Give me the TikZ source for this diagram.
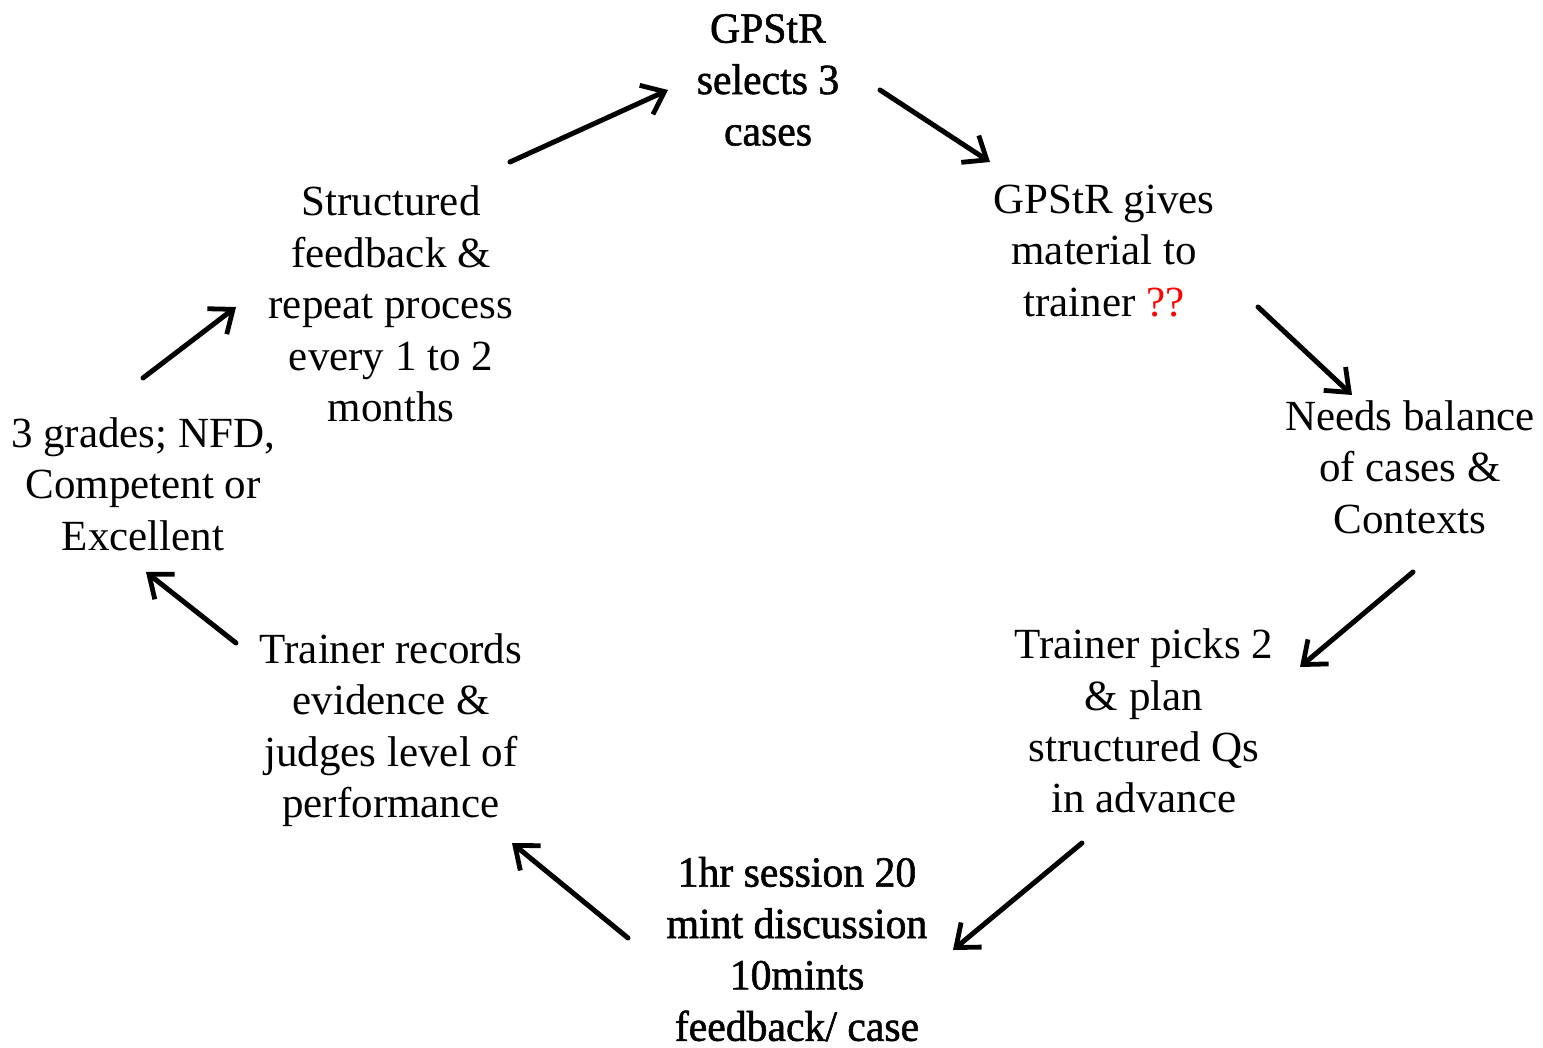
\documentclass[tikz,border=0pt]{standalone}
\usepackage{fontspec}
\setmainfont{Liberation Serif}
\newfontfamily\condfont[FakeStretch=0.97,FakeBold=1.3]{Liberation Serif}
\usetikzlibrary{arrows.meta}
\begin{document}
\begin{tikzpicture}[x=0.5pt,y=-0.5pt,
  lbl/.style={align=center,inner sep=0pt,font=\fontsize{21.5}{25.7}\selectfont},
  cond/.style={lbl,font=\fontsize{21.5}{25.7}\condfont},
  arr/.style={-{Straight Barb[length=10pt,width=16pt,line width=2.4pt]},line width=2.5pt,line cap=round}]
\useasboundingbox (0,0) rectangle (1543,1048);
\node[cond] (top) at (768,80) {GPStR\\selects 3\\cases};
\node[lbl] (rt) at (1104,251) {GPStR gives\\material to\\trainer \textcolor{red}{??}};
\node[lbl] (r) at (1410,467) {Needs balance\\of cases \&\\Contexts};
\node[lbl] (rb) at (1144,721) {Trainer picks 2\\\& plan\\structured Qs\\in advance};
\node[cond] (b) at (797,949) {1hr session 20\\mint discussion\\10mints\\feedback/ case};
\node[lbl] (lb) at (391,730) {Trainer records\\evidence \&\\judges level of\\performance};
\node[lbl] (l) at (143,484) {3 grades; NFD,\\Competent or\\Excellent};
\node[lbl] (lt) at (391,304) {Structured\\feedback \&\\repeat process\\every 1 to 2\\months};
\coordinate (a1s) at (510,162); \coordinate (a1e) at (668,90);
\coordinate (a2s) at (880,90); \coordinate (a2e) at (990,162);
\coordinate (a3s) at (1258,307); \coordinate (a3e) at (1352,395);
\coordinate (a4s) at (1413,572); \coordinate (a4e) at (1300,667);
\coordinate (a5s) at (1082,843); \coordinate (a5e) at (953,950);
\coordinate (a6s) at (628,938); \coordinate (a6e) at (512,843);
\coordinate (a7s) at (236,643); \coordinate (a7e) at (146,572);
\coordinate (a8s) at (143,378); \coordinate (a8e) at (236,307);
\foreach \i in {1,...,8} \draw[arr] (a\i s) -- (a\i e);
\end{tikzpicture}
\end{document}
